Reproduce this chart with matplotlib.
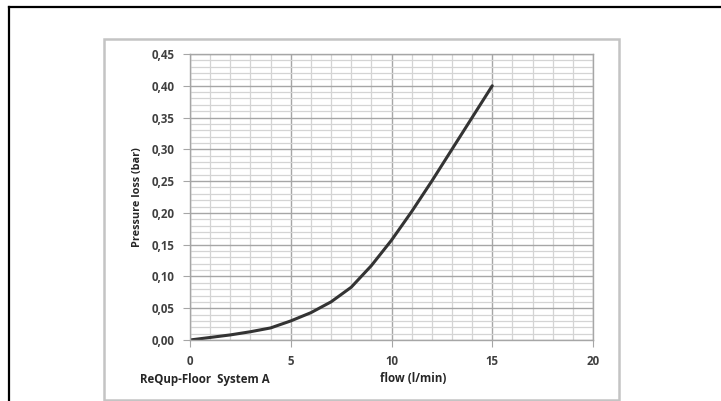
import matplotlib.pyplot as plt
from matplotlib.ticker import MultipleLocator, FuncFormatter
from matplotlib.lines import Line2D
from matplotlib.patches import Rectangle

# flow (l/min) vs pressure loss (bar)
flow = [0, 1, 2, 3, 4, 5, 6, 7, 8, 9, 10, 11, 12, 13, 14, 15]
pressure = [0.0, 0.004, 0.008, 0.013, 0.019, 0.030, 0.043, 0.060, 0.083,
            0.117, 0.157, 0.202, 0.250, 0.300, 0.350, 0.400]

W, H = 721, 401
fig = plt.figure(figsize=(W / 100, H / 100), dpi=100)
plt.rcParams['font.family'] = ['Open Sans', 'DejaVu Sans']

# outer black frame (only top and left visible) and grey chart box
fig.add_artist(Line2D([9 / W, 1.0], [1 - 7 / H, 1 - 7 / H], color='black', lw=1.6,
                      transform=fig.transFigure))
fig.add_artist(Line2D([9 / W, 9 / W], [1 - 7 / H, 0.0], color='black', lw=1.6,
                      transform=fig.transFigure))
fig.add_artist(Rectangle((104 / W, 1 - 400 / H), (619 - 104) / W, (400 - 39) / H,
                         fill=False, edgecolor='#c4c4c4', lw=1.8,
                         transform=fig.transFigure))

ax = fig.add_axes([190 / W, 1 - 340 / H, (593 - 190) / W, (340 - 54) / H])
ax.set_xlim(0, 20)
ax.set_ylim(0, 0.45)

ax.xaxis.set_major_locator(MultipleLocator(5))
ax.xaxis.set_minor_locator(MultipleLocator(1))
ax.yaxis.set_major_locator(MultipleLocator(0.05))
ax.yaxis.set_minor_locator(MultipleLocator(0.01))

ax.grid(which='minor', color='#d4d4d4', lw=0.9)
ax.grid(which='major', color='#a6a6a6', lw=1.0)
ax.set_axisbelow(True)

for s in ax.spines.values():
    s.set_color('#a6a6a6')
    s.set_linewidth(1.0)

ax.tick_params(which='major', direction='out', length=5, color='#a6a6a6',
               labelsize=8.3, labelcolor='#404040')
ax.tick_params(which='minor', length=0)
ax.tick_params(axis='x', pad=6)
ax.tick_params(axis='y', pad=6)
ax.yaxis.set_major_formatter(FuncFormatter(lambda v, p: f'{v:.2f}'.replace('.', ',')))
for lab in ax.get_xticklabels() + ax.get_yticklabels():
    lab.set_fontweight('bold')

ax.plot(flow, pressure, color='#333333', lw=2.2, solid_capstyle='round',
        solid_joinstyle='round')

ax.set_ylabel('Pressure loss (bar)', fontsize=7.8, fontweight='bold', color='#262626',
              labelpad=6)

fig.text(140 / W, 1 - 379 / H, 'ReQup-Floor  System A', fontsize=8.3, fontweight='bold',
         color='#262626', ha='left', va='center')
fig.text(380 / W, 1 - 379 / H, 'flow (l/min)', fontsize=8.3, fontweight='bold',
         color='#262626', ha='left', va='center')

fig.savefig('out.png', dpi=100)
